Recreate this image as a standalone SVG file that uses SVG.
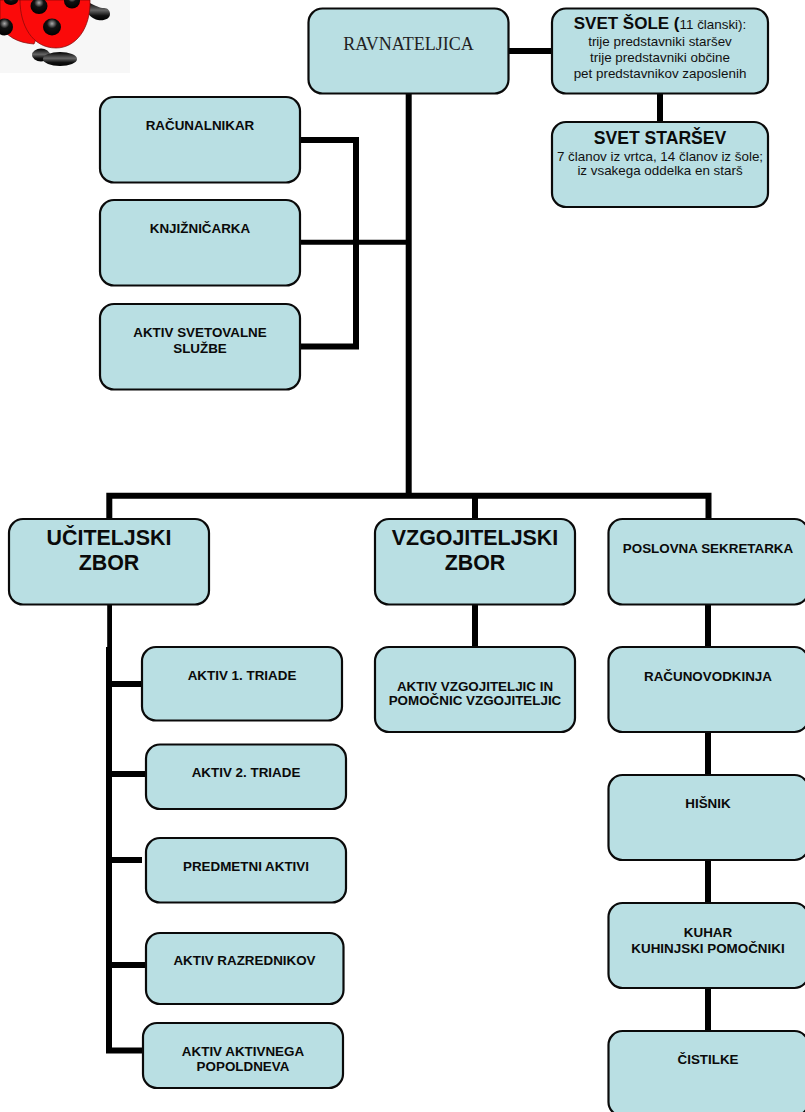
<svg xmlns="http://www.w3.org/2000/svg" width="805" height="1112" viewBox="0 0 805 1112">
<style>
.b{fill:#b9dfe3;stroke:#0a0a0a;stroke-width:2.2}
.t{font-family:"Liberation Sans",Arial,sans-serif;font-weight:700;fill:#0a0a0a;text-anchor:middle}
.s{font-size:13.4px}.l{font-size:21.4px}.m{font-size:17px}
.r{font-family:"Liberation Sans",Arial,sans-serif;font-size:13.4px;fill:#111;text-anchor:middle}
.c{fill:none;stroke:#000;stroke-width:6}
</style>
<defs>
<radialGradient id="spot" cx="0.5" cy="0.3" r="0.7"><stop offset="0" stop-color="#aaa"/><stop offset="0.4" stop-color="#111"/><stop offset="1" stop-color="#000"/></radialGradient>
<linearGradient id="foot" x1="0" y1="0" x2="0" y2="1"><stop offset="0" stop-color="#000"/><stop offset="0.45" stop-color="#666"/><stop offset="0.75" stop-color="#111"/><stop offset="1" stop-color="#000"/></linearGradient>
</defs>
<g id="ladybug">
<rect x="0" y="0" width="130" height="73" fill="#f7f7f7"/>
<path d="M88 2C96 6 100 8 104 8C108 8 110 11 110 14C110 19 104 21 98 20C92 19 88 14 86 10Z" fill="url(#foot)"/>
<path d="M0 24C5 36 18 43 34 44L40 30L22 0H0Z" fill="#fb0a0a" stroke="#7a0a0a" stroke-width="0.7"/>
<path d="M20 0C20 25 32 48 56 48C76 48 91 28 90 0Z" fill="#fb0a0a" stroke="#7a0a0a" stroke-width="0.7"/>
<ellipse cx="41" cy="55" rx="9" ry="6.5" fill="url(#foot)"/>
<ellipse cx="60" cy="59" rx="17" ry="7" fill="url(#foot)"/>
<ellipse cx="39" cy="6" rx="8.5" ry="8" fill="url(#spot)"/>
<ellipse cx="52" cy="27" rx="9" ry="8.5" fill="url(#spot)"/>
<ellipse cx="72" cy="1" rx="8" ry="7.5" fill="url(#spot)"/>
<ellipse cx="4.500" cy="27" rx="8.500" ry="8.500" fill="url(#spot)"/>
<ellipse cx="11" cy="0" rx="7" ry="5" fill="url(#spot)"/>
</g>
<g id="connectors">
<path class="c" d="M508 51H552M660 93V122M408.700 93V496"/>
<path class="c" d="M300 140H356V346.500H300"/>
<path d="M300 242.300H408" fill="none" stroke="#000" stroke-width="5"/>
<path class="c" d="M109.300 519V495.700H708.500V519M475 496V519M475 604V647M708 604V647M708 732V775M708 860V903M708 988V1031"/>
<path d="M109.600 604V650" fill="none" stroke="#000" stroke-width="4.800"/>
<path d="M109 647V1050.500H143" fill="none" stroke="#000" stroke-width="6"/>
<path class="c" d="M109 684H142M109 774H146M109 860H142M109 965H146"/>
</g>
<g id="ravnateljica"><rect class="b" x="308.500" y="8.500" width="200" height="85" rx="14"/><text x="408.500" y="50" font-family="'Liberation Serif',serif" font-size="18px" fill="#222" text-anchor="middle">RAVNATELJICA</text></g>
<g id="svet-sole"><rect class="b" x="552" y="8.500" width="216" height="85" rx="14"/>
<text x="660" y="29" class="r"><tspan class="t m">SVET ŠOLE (</tspan>11 članski):</text>
<text x="660" y="46" class="r">trije predstavniki staršev</text>
<text x="660" y="62" class="r">trije predstavniki občine</text>
<text x="660" y="78" class="r">pet predstavnikov zaposlenih</text></g>
<g id="svet-starsev"><rect class="b" x="552" y="122" width="216" height="85" rx="14"/>
<text x="660" y="144" class="t" font-size="17.600px">SVET STARŠEV</text>
<text x="660" y="160.500" class="r">7 članov iz vrtca, 14 članov iz šole;</text>
<text x="660" y="175" class="r">iz vsakega oddelka en starš</text></g>
<g id="racunalnikar"><rect class="b" x="100" y="97" width="200" height="85.500" rx="14"/><text x="200" y="129.500" class="t s">RAČUNALNIKAR</text></g>
<g id="knjiznicarka"><rect class="b" x="100" y="200" width="200" height="85.500" rx="14"/><text x="200" y="233" class="t s">KNJIŽNIČARKA</text></g>
<g id="svetovalna"><rect class="b" x="100" y="304" width="200" height="85.500" rx="14"/><text x="200" y="337" class="t s">AKTIV SVETOVALNE</text><text x="200" y="353" class="t s">SLUŽBE</text></g>
<g id="uciteljski"><rect class="b" x="9" y="519" width="200" height="85.500" rx="14"/><text x="109" y="545" class="t l">UČITELJSKI</text><text x="109" y="570" class="t l">ZBOR</text></g>
<g id="vzgojiteljski"><rect class="b" x="375" y="519" width="200" height="85.500" rx="14"/><text x="475" y="545" class="t l">VZGOJITELJSKI</text><text x="475" y="570" class="t l">ZBOR</text></g>
<g id="sekretarka"><rect class="b" x="608.500" y="519" width="200" height="85.500" rx="14"/><text x="708" y="553" class="t s">POSLOVNA SEKRETARKA</text></g>
<g id="aktiv1"><rect class="b" x="142" y="647" width="200" height="73.500" rx="14"/><text x="242" y="680" class="t s">AKTIV 1. TRIADE</text></g>
<g id="aktiv2"><rect class="b" x="146" y="744.500" width="200" height="64.500" rx="14"/><text x="246" y="777" class="t s">AKTIV 2. TRIADE</text></g>
<g id="predmetni"><rect class="b" x="146" y="838" width="200" height="64.500" rx="14"/><text x="246" y="871" class="t s">PREDMETNI AKTIVI</text></g>
<g id="razredniki"><rect class="b" x="146" y="933" width="197.500" height="71" rx="14"/><text x="244.500" y="965" class="t s">AKTIV RAZREDNIKOV</text></g>
<g id="popoldne"><rect class="b" x="143" y="1023" width="200" height="65" rx="14"/><text x="243" y="1056" class="t s">AKTIV AKTIVNEGA</text><text x="243" y="1071" class="t s">POPOLDNEVA</text></g>
<g id="aktiv-vzg"><rect class="b" x="375" y="647" width="200" height="85" rx="14"/><text x="475" y="690.500" class="t s">AKTIV VZGOJITELJIC IN</text><text x="475" y="705" class="t s">POMOČNIC VZGOJITELJIC</text></g>
<g id="racunovodkinja"><rect class="b" x="608.500" y="647" width="200" height="85" rx="14"/><text x="708" y="681" class="t s">RAČUNOVODKINJA</text></g>
<g id="hisnik"><rect class="b" x="608.500" y="775" width="200" height="85" rx="14"/><text x="708" y="808" class="t s">HIŠNIK</text></g>
<g id="kuhar"><rect class="b" x="608.500" y="903" width="200" height="85" rx="14"/><text x="708" y="936.500" class="t s">KUHAR</text><text x="708" y="952.500" class="t s">KUHINJSKI POMOČNIKI</text></g>
<g id="cistilke"><rect class="b" x="608.500" y="1031" width="200" height="85" rx="14"/><text x="708" y="1064" class="t s">ČISTILKE</text></g>
</svg>
